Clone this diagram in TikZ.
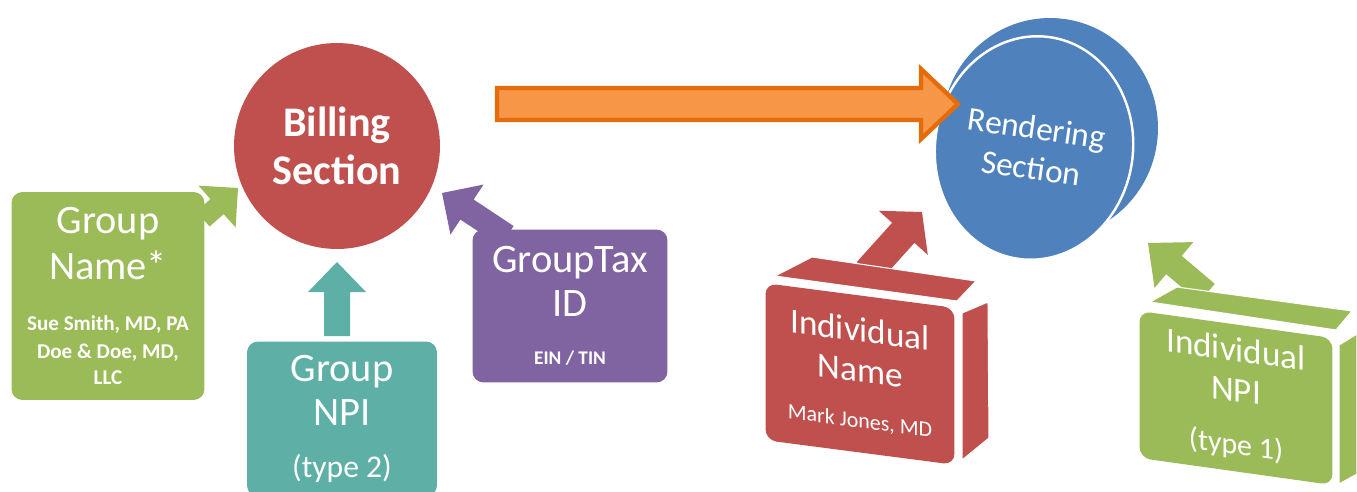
\documentclass[tikz,border=0pt]{standalone}
\usepackage{fontspec}
\setmainfont{Carlito}
\usepackage{xcolor}
\usetikzlibrary{calc,positioning,shapes.geometric}

\definecolor{billred}{HTML}{C0504D}
\definecolor{grpgreen}{HTML}{9BBB59}
\definecolor{grpteal}{HTML}{5EB0A6}
\definecolor{taxpurple}{HTML}{8064A2}
\definecolor{arroworange}{HTML}{F79646}
\definecolor{arrowedge}{HTML}{E46C0A}
\definecolor{rendblue}{HTML}{4F81BD}

\tikzset{
	card/.style={rounded corners=0.22cm, text=white, align=center, inner sep=0pt},
	bubble/.style={circle, text=white, align=center, inner sep=0pt},
	face/.style={draw=white, line width=0.6pt, line join=round},
}

% start, tip, shaft half width, head half width, head length (all in px), style
\newcommand\blockarrow[6]{%
	\pgfmathsetlengthmacro\shaftw{#3*0.02cm}%
	\pgfmathsetlengthmacro\headw{#4*0.02cm}%
	\pgfmathsetlengthmacro\headl{#5*0.02cm}%
	\coordinate (hb) at ($(#2)!\headl!(#1)$);
	\path[#6] ($(#1)!\shaftw!90:(#2)$) -- ($(hb)!\shaftw!90:(#2)$) -- ($(hb)!\headw!90:(#2)$) -- (#2)
		-- ($(hb)!\headw!-90:(#2)$) -- ($(hb)!\shaftw!-90:(#2)$) -- ($(#1)!\shaftw!-90:(#2)$) -- cycle;
}
\newcommand\subline[1]{{\bfseries\fontsize{12}{14}\selectfont #1}}

\begin{document}
\begin{tikzpicture}[x=0.02cm, y=-0.02cm]
	\clip (0,0) rectangle (1357,491);

	\coordinate (gnameout) at (203,219);
	\coordinate (gnametip) at (238,188);
	\coordinate (npiout) at (337,336);
	\coordinate (npitip) at (337,262);
	\coordinate (taxout) at (507,236);
	\coordinate (taxtip) at (442,193);
	\coordinate (billout) at (497,104);
	\coordinate (rendin) at (958,104);
	\coordinate (inameout) at (868,272);
	\coordinate (inametip) at (922,212);
	\coordinate (inpiout) at (1207,293);
	\coordinate (inpitip) at (1148,243);

	\blockarrow{gnameout}{gnametip}{10}{28}{28}{fill=grpgreen}
	\blockarrow{npiout}{npitip}{13}{29}{30}{fill=grpteal}
	\blockarrow{taxout}{taxtip}{12}{30}{30}{fill=taxpurple}
	\blockarrow{inameout}{inametip}{15}{33}{28}{fill=billred}
	\blockarrow{inpiout}{inpitip}{12}{30}{34}{fill=grpgreen}

	\node[bubble, fill=billred, minimum size=4.12cm, font=\bfseries\fontsize{24}{27}\selectfont] (billing) at (337,146) {Billing\\Section};

	\node[card, fill=grpgreen, minimum width=3.86cm, minimum height=4.16cm, font=\fontsize{23}{26}\selectfont] (gname) at (108,296)
		{Group\\Name*\\[3pt]\subline{Sue Smith, MD, PA}\\[-9.6pt]\subline{Doe \& Doe, MD,}\\[-11.3pt]\subline{LLC}};
	\node[card, fill=grpteal, minimum width=3.8cm, minimum height=3.1cm, font=\fontsize{23}{25}\selectfont] (gnpi) at (342,419)
		{Group\\NPI\\[5pt]{\fontsize{18}{20}\selectfont (type 2)}};
	\node[card, fill=taxpurple, minimum width=3.9cm, minimum height=3.06cm, font=\fontsize{23}{25}\selectfont] (gtax) at (570,306)
		{GroupTax\\ID\\[2pt]{\bfseries\fontsize{11}{13}\selectfont EIN / TIN}};

	\node[ellipse, fill=rendblue, minimum width=4.32cm, minimum height=4.4cm, inner sep=0pt] (rendback) at (1050,128) {};
	\node[ellipse, fill=rendblue, draw=white, line width=1.4pt, minimum width=3.96cm, minimum height=4.48cm, inner sep=0pt,
		text=white, align=center, rotate=-8, font=\fontsize{19}{23}\selectfont] (rendering) at (1034,148) {Rendering\\Section};

	\blockarrow{billout}{rendin}{16}{35}{37}{fill=arroworange, draw=arrowedge, line width=2.5pt, line join=miter}

	\fill[billred, face] (775,276) -- (812,257) -- (976,281) -- (957,301) -- cycle;
	\fill[billred, face] (962,313) -- (988,302) -- (989,438) -- (962,460) -- cycle;
	\node[card, fill=billred, yslant=-0.13, minimum width=3.78cm, minimum height=3.14cm, font=\fontsize{20}{23}\selectfont] (iname) at (860,374)
		{Individual\\Name\\[3pt]{\fontsize{12.5}{14}\selectfont Mark Jones, MD}};

	\fill[grpgreen, face] (1150,302) -- (1177,287) -- (1352,311) -- (1336,330) -- cycle;
	\fill[grpgreen, face] (1339,345) -- (1357,334) -- (1357,474) -- (1339,484) -- cycle;
	\node[card, fill=grpgreen, yslant=-0.14, minimum width=3.86cm, minimum height=2.94cm, font=\fontsize{20}{23}\selectfont] (inpi) at (1236,398)
		{Individual\\NPI\\[7pt]{\fontsize{17}{19}\selectfont (type 1)}};
\end{tikzpicture}
\end{document}
